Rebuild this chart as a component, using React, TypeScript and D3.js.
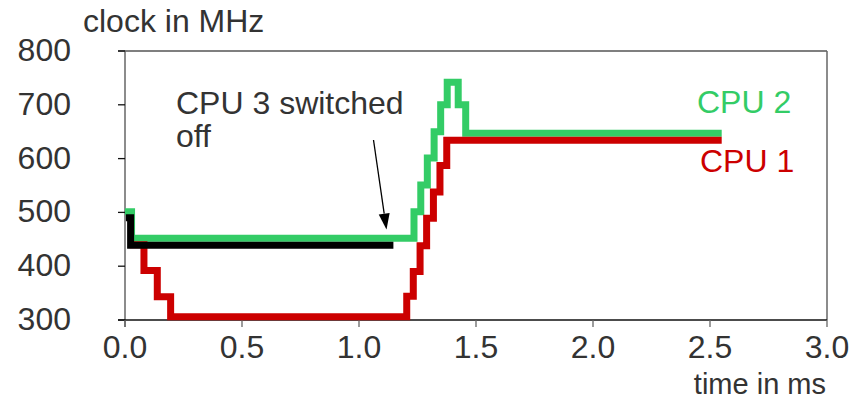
import React from "react";
import * as d3 from "d3";

// ---- data (time in ms, clock in MHz), step-after series ----
const cpu2Times = [0, 0.028, 1.235, 1.264, 1.292, 1.321, 1.349, 1.377, 1.424, 1.456, 2.55];
const cpu2Values = [501, 452, 501, 551, 601, 650, 700, 742, 700, 647, 647];

const cpu1Times = [0.02, 0.081, 0.138, 0.195, 1.204, 1.232, 1.261, 1.289, 1.318, 1.346, 1.375, 2.55];
const cpu1Values = [440, 392, 343, 306, 344, 390, 438, 489, 538, 587, 634, 634];

const cpu3Times = [0.004, 0.024, 1.147];
const cpu3Values = [490, 439, 439];

const xTicks = [0, 0.5, 1.0, 1.5, 2.0, 2.5, 3.0];
const yTicks = [300, 400, 500, 600, 700, 800];

const W = 861;
const H = 401;
const left = 125, right = 827, top = 51, bottom = 320;

const GREEN = "#33cc66";
const RED = "#cc0000";
const TEXT = "#333333";
const FONT = "Liberation Sans, Arial, sans-serif";

export default function App() {
  const x = d3.scaleLinear().domain([0, 3]).range([left, right]);
  const y = d3.scaleLinear().domain([300, 800]).range([bottom, top]);

  const line = d3
    .line<[number, number]>()
    .x((d) => x(d[0]))
    .y((d) => y(d[1]))
    .curve(d3.curveStepAfter);

  const zip = (t: number[], v: number[]) => t.map((ti, i) => [ti, v[i]] as [number, number]);

  const greenPath = line(zip(cpu2Times, cpu2Values)) || "";
  const redPath = line(zip(cpu1Times, cpu1Values)) || "";
  const blackPath = line(zip(cpu3Times, cpu3Values)) || "";

  // arrow
  const ax0 = 373.5, ay0 = 140, ax1 = 386.5, ay1 = 229.5;
  const len = Math.hypot(ax1 - ax0, ay1 - ay0);
  const ux = (ax1 - ax0) / len, uy = (ay1 - ay0) / len;
  const headL = 16, headW = 5.5;
  const bx = ax1 - ux * headL, by = ay1 - uy * headL;
  const head = `M${ax1},${ay1} L${bx - uy * headW},${by + ux * headW} L${bx + uy * headW},${by - ux * headW} Z`;

  return (
    <svg
      width={W}
      height={H}
      style={{ position: "absolute", left: 0, top: 0, background: "#fff" }}
      fontFamily={FONT}
    >
      {/* frame */}
      <line x1={left - 7} x2={right} y1={top} y2={top} stroke="#555" strokeWidth={1.3} />
      <line x1={right} x2={right} y1={top} y2={bottom} stroke="#666" strokeWidth={1.5} />
      <line x1={left} x2={left} y1={top} y2={bottom + 7} stroke="#666" strokeWidth={1.5} />
      <line x1={left - 7} x2={right} y1={bottom} y2={bottom} stroke="#111" strokeWidth={1.3} />

      {/* y ticks */}
      {yTicks.map((t) => (
        <g key={"y" + t}>
          <line x1={left - 7} x2={left} y1={y(t)} y2={y(t)} stroke="#111" strokeWidth={1.3} />
          <text x={71} y={y(t) + 10} textAnchor="end" fontSize={32} fill={TEXT}>
            {t}
          </text>
        </g>
      ))}

      {/* x ticks */}
      {xTicks.map((t) => (
        <g key={"x" + t}>
          <line x1={x(t)} x2={x(t)} y1={bottom} y2={bottom + 7} stroke="#666" strokeWidth={1.3} />
          <text x={x(t)} y={358} textAnchor="middle" fontSize={32} fill={TEXT}>
            {t.toFixed(1)}
          </text>
        </g>
      ))}

      {/* series */}
      <path d={greenPath} fill="none" stroke={GREEN} strokeWidth={7} strokeLinejoin="miter" />
      <path d={redPath} fill="none" stroke={RED} strokeWidth={7} strokeLinejoin="miter" />
      <path d={blackPath} fill="none" stroke="#000" strokeWidth={7} strokeLinejoin="miter" />

      {/* arrow */}
      <line x1={ax0} y1={ay0} x2={bx} y2={by} stroke="#000" strokeWidth={1.3} />
      <path d={head} fill="#000" />

      {/* labels */}
      <text x={83} y={32} fontSize={32} fill={TEXT}>clock in MHz</text>
      <text x={826} y={394} fontSize={29} fill={TEXT} textAnchor="end">time in ms</text>
      <text x={176} y={114} fontSize={32} fill={TEXT}>CPU 3 switched</text>
      <text x={176} y={147} fontSize={32} fill={TEXT}>off</text>
      <text x={697} y={113} fontSize={32} fill={GREEN}>CPU 2</text>
      <text x={700} y={172} fontSize={32} fill={RED}>CPU 1</text>
    </svg>
  );
}
